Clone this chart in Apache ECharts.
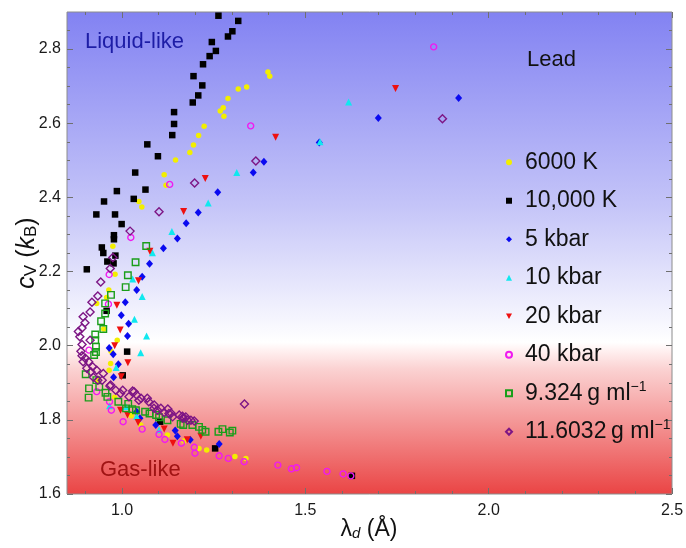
<!DOCTYPE html>
<html>
<head>
<meta charset="utf-8">
<script src="https://cdn.jsdelivr.net/npm/echarts@6/dist/echarts.min.js"></script>
<style>
  html, body { margin: 0; padding: 0; background: #ffffff; }
  #chart { width: 686px; height: 548px; }
</style>
</head>
<body>
<div id="chart"></div>
<script>
// Heat capacity c_V versus thermal de Broglie wavelength, lead.
// Each series is a list of [lambda_d (Å), c_V (k_B)] pairs.

const isotherm6000K = [
  [1.398,2.738],[1.403,2.727],[1.340,2.698],[1.317,2.692],[1.289,2.667],[1.276,2.642],[1.268,2.633],
  [1.278,2.619],[1.224,2.592],[1.209,2.567],[1.195,2.541],[1.185,2.521],[1.146,2.501],[1.115,2.461],
  [1.120,2.433],[1.046,2.389],[1.054,2.374],[0.975,2.268],[0.981,2.193],[0.964,2.150],[0.958,2.130],
  [0.931,2.114],[0.950,2.045],[0.987,2.015],[0.970,1.985],[0.969,1.952],[0.965,1.934],[0.934,1.907],
  [0.980,1.861],[1.025,1.811],[1.051,1.786],[1.124,1.759],[1.169,1.743],[1.210,1.723],[1.231,1.719],
  [1.308,1.701],[1.338,1.696]
];
const isotherm10000K = [
  [1.263,2.890],[1.317,2.876],[1.301,2.848],[1.289,2.834],[1.245,2.819],[1.256,2.795],[1.239,2.781],
  [1.221,2.759],[1.195,2.727],[1.219,2.702],[1.208,2.675],[1.193,2.656],[1.142,2.630],[1.142,2.598],
  [1.137,2.568],[1.069,2.543],[1.098,2.511],[1.036,2.467],[1.064,2.421],[0.986,2.417],[1.032,2.396],
  [0.951,2.389],[0.930,2.354],[0.981,2.354],[0.999,2.328],[0.978,2.298],[0.978,2.287],[0.945,2.265],
  [0.949,2.250],[0.982,2.243],[0.960,2.227],[0.977,2.222],[0.904,2.206],[0.958,2.094],[1.014,1.984],
  [1.002,1.920],[1.104,1.795],[1.254,1.723],[1.627,1.649]
];
const isobar5kbar = [
  [1.918,2.668],[1.699,2.614],[1.538,2.548],[1.387,2.496],[1.358,2.467],[1.261,2.414],[1.208,2.359],
  [1.175,2.330],[1.151,2.289],[1.113,2.263],[1.075,2.221],[1.055,2.186],[1.040,2.150],[1.009,2.117],
  [0.998,2.082],[1.018,2.059],[1.015,2.026],[0.965,1.994],[0.976,1.977],[0.990,1.950],[0.977,1.915],
  [1.040,1.822],[1.049,1.804],[1.092,1.786],[1.145,1.771],[1.151,1.756],[1.186,1.746],[1.265,1.735]
];
const isobar10kbar = [
  [1.618,2.657],[1.540,2.550],[1.313,2.467],[1.235,2.385],[1.136,2.308],[1.083,2.251],[1.029,2.180],
  [1.055,2.133],[1.034,2.071],[1.067,2.026],[1.051,1.981],[0.984,1.941],
  [0.966,1.838],[1.011,1.835],[1.040,1.810],[1.101,1.773]
];
const isobar20kbar = [
  [1.746,2.694],[1.419,2.562],[1.227,2.451],[1.168,2.362],[1.076,2.255],[1.045,2.175],[0.986,2.109],
  [0.995,2.042],[0.980,2.000],[1.016,1.954],[0.998,1.916],
  [0.996,1.826],[1.015,1.813],[1.044,1.793],[1.115,1.775],[1.139,1.737],[1.178,1.746],[1.215,1.756]
];
const isobar40kbar = [
  [1.850,2.806],[1.351,2.593],[1.130,2.435],[1.024,2.292],[0.965,2.192],[0.963,2.112],[0.910,1.988],
  [0.931,1.876],[0.966,1.849],[0.971,1.826],[1.003,1.795],[1.055,1.775],[1.101,1.761],[1.117,1.747],
  [1.162,1.737],[1.197,1.726],[1.199,1.710],[1.265,1.703],[1.290,1.696],[1.333,1.687],[1.425,1.678],
  [1.462,1.668],[1.476,1.671],[1.559,1.661],[1.603,1.654],[1.624,1.649]
];
const isochore9324 = [
  [1.066,2.269],[1.037,2.225],[1.016,2.190],[1.010,2.158],[0.970,2.137],[0.954,2.114],[0.954,2.087],
  [0.943,2.066],[0.949,2.045],[0.927,2.030],[0.927,2.015],[0.929,1.997],[0.929,1.983],[0.924,1.975],
  [0.901,1.923],[0.930,1.907],[0.910,1.885],[0.938,1.889],[0.909,1.860],[0.955,1.873],[0.960,1.862],
  [0.990,1.849],[1.017,1.843],[1.011,1.831],[1.028,1.829],[1.038,1.826],[1.063,1.822],[1.075,1.817],
  [1.093,1.813],[1.101,1.807],[1.124,1.799],[1.160,1.789],[1.167,1.786],[1.192,1.786],[1.210,1.781],
  [1.219,1.773],[1.228,1.768],[1.263,1.768],[1.274,1.775],[1.294,1.766],[1.301,1.771]
];
const isochore116032 = [
  [1.874,2.612],[1.365,2.498],[1.198,2.439],[1.101,2.361],[1.022,2.309],[0.975,2.238],[0.968,2.208],
  [0.942,2.172],[0.934,2.134],[0.918,2.117],[0.913,2.091],[0.894,2.078],[0.899,2.062],[0.891,2.048],
  [0.881,2.038],[0.885,2.024],[0.913,2.015],[0.891,2.003],[0.888,1.985],[0.891,1.973],[0.900,1.966],
  [0.894,1.957],[0.909,1.957],[0.920,1.943],[0.904,1.939],[0.915,1.930],[0.931,1.934],[0.922,1.915],
  [0.934,1.907],[0.949,1.925],[0.946,1.907],[0.967,1.891],[0.969,1.894],[0.983,1.880],[0.996,1.871],
  [1.002,1.880],[1.019,1.862],[1.033,1.876],[1.029,1.878],[1.040,1.867],[1.046,1.853],[1.052,1.858],
  [1.069,1.858],[1.073,1.849],[1.088,1.840],[1.087,1.831],[1.097,1.826],[1.106,1.831],[1.115,1.820],
  [1.125,1.829],[1.128,1.817],[1.134,1.818],[1.138,1.808],[1.156,1.813],[1.165,1.810],[1.166,1.804],
  [1.174,1.808],[1.179,1.799],[1.188,1.799],[1.197,1.797],[1.334,1.843]
];

const seriesNames = ['6000 K', '10,000 K', '5 kbar', '10 kbar', '20 kbar', '40 kbar', '9.324 g ml', '11.6032 g ml'];
const xMajorTicks = [1.0, 1.5, 2.0, 2.5];
const xMinorTicks = [0.9, 1.1, 1.2, 1.3, 1.4, 1.6, 1.7, 1.8, 1.9, 2.1, 2.2, 2.3, 2.4];
const yMajorTicks = [1.6, 1.8, 2.0, 2.2, 2.4, 2.6, 2.8];
const yMinorTicks = [1.65, 1.7, 1.75, 1.85, 1.9, 1.95, 2.05, 2.1, 2.15, 2.25, 2.3, 2.35,
                     2.45, 2.5, 2.55, 2.65, 2.7, 2.75, 2.85];

const FONT = '"Liberation Sans", Arial, sans-serif';
const chart = echarts.init(document.getElementById('chart'), null, { renderer: 'canvas' });

function makeAxis(dim, position, ticks, len, withLabels) {
  const ax = {
    type: 'value',
    position: position,
    min: dim === 'x' ? 0.85 : 1.6,
    max: dim === 'x' ? 2.5 : 2.9,
    axisLine: { show: false },
    splitLine: { show: false },
    axisTick: { show: true, inside: true, length: len, customValues: ticks,
                lineStyle: { color: '#707070', width: 1 } },
    axisLabel: { show: false }
  };
  if (withLabels) {
    ax.axisLabel = {
      show: true, customValues: ticks,
      formatter: v => v.toFixed(1),
      fontFamily: FONT, fontSize: 16, color: '#1a1a1a',
      margin: dim === 'x' ? 9 : 6
    };
  }
  return ax;
}

const hollow = 'rgba(0,0,0,0)';
function scatter(name, data, symbol, size, fill, stroke, extra) {
  return Object.assign({
    type: 'scatter', name: name, data: data,
    symbol: symbol, symbolSize: size,
    itemStyle: { color: fill, borderColor: stroke, borderWidth: fill === hollow ? 1.4 : 0, opacity: 1 },
    emphasis: { disabled: true },
    xAxisIndex: 0, yAxisIndex: 0
  }, extra || {});
}

// legend entries; the 20 kbar key uses a downward triangle like its markers
const legendData = seriesNames.map(n => n === '20 kbar'
  ? { name: n, icon: 'path://M0,0L10,0L5,9Z' } : { name: n });

const option = {
  animation: false,
  backgroundColor: '#ffffff',
  grid: {
    left: 67, right: 14, top: 12, bottom: 54,
    outerBoundsMode: 'none',
    show: true,
    borderColor: '#8c8c8c', borderWidth: 1,
    backgroundColor: new echarts.graphic.LinearGradient(0, 0, 0, 1, [
      { offset: 0, color: '#8282f2' },
      { offset: 0.40, color: '#c4c4f8' },
      { offset: 0.685, color: '#ffffff' },
      { offset: 0.70, color: '#fff2f2' },
      { offset: 0.74, color: '#fbd2d2' },
      { offset: 1, color: '#ea4444' }
    ])
  },
  xAxis: [
    makeAxis('x', 'bottom', xMajorTicks, 6, true),
    makeAxis('x', 'bottom', xMinorTicks, 3, false),
    makeAxis('x', 'top', xMajorTicks, 6, false),
    makeAxis('x', 'top', xMinorTicks, 3, false)
  ],
  yAxis: [
    makeAxis('y', 'left', yMajorTicks, 6, true),
    makeAxis('y', 'left', yMinorTicks, 3, false),
    makeAxis('y', 'right', yMajorTicks, 6, false),
    makeAxis('y', 'right', yMinorTicks, 3, false)
  ],
  legend: {
    orient: 'vertical',
    left: 500, top: 144,
    itemWidth: 6, itemHeight: 6,
    itemGap: 12,
    selectedMode: false,
    data: legendData,
    formatter: name => '{gap|}' + (name.endsWith(' ml')
      ? name.replace(' g ml', '\u2009g ml') + '{sup|\u22121}' : name),
    textStyle: {
      fontFamily: FONT, fontSize: 23, color: '#111111', lineHeight: 26.5,
      rich: {
        gap: { width: 8, lineHeight: 26.5 },
        sup: { fontFamily: FONT, fontSize: 14, lineHeight: 12, verticalAlign: 'top', color: '#111111' }
      }
    }
  },
  series: [
    scatter(seriesNames[0], isotherm6000K, 'circle', 5.5, '#f2ee00', '#f2ee00'),
    scatter(seriesNames[1], isotherm10000K, 'rect', 6.5, '#000000', '#000000'),
    scatter(seriesNames[2], isobar5kbar, 'diamond', [7, 8], '#0a0af0', '#0a0af0'),
    scatter(seriesNames[3], isobar10kbar, 'triangle', 7, '#10e8ef', '#10e8ef'),
    scatter(seriesNames[4], isobar20kbar, 'triangle', 7, '#ee1010', '#ee1010', { symbolRotate: 180 }),
    scatter(seriesNames[5], isobar40kbar, 'circle', 6, hollow, '#f01af0'),
    scatter(seriesNames[6], isochore9324, 'rect', 6.5, hollow, '#1a9e1a'),
    scatter(seriesNames[7], isochore116032, 'diamond', [8, 8], hollow, '#7d1585')
  ],
  graphic: [
    { type: 'text', x: 85, y: 42, silent: true, z: 10,
      style: { text: 'Liquid-like', fill: '#1d1da6', font: '22px ' + FONT, textVerticalAlign: 'middle' } },
    { type: 'text', x: 100, y: 470, silent: true, z: 10,
      style: { text: 'Gas-like', fill: '#a01414', font: '22px ' + FONT, textVerticalAlign: 'middle' } },
    { type: 'text', x: 527, y: 60, silent: true, z: 10,
      style: { text: 'Lead', fill: '#111111', font: '22px ' + FONT, textVerticalAlign: 'middle' } },
    { type: 'text', x: 369, y: 530, silent: true, z: 10,
      style: {
        text: 'λ{si|d} (Å)', fill: '#111111', fontFamily: FONT, fontSize: 23,
        align: 'center', verticalAlign: 'middle',
        rich: { si: { fontFamily: FONT, fontSize: 15, fontStyle: 'italic', verticalAlign: 'bottom', lineHeight: 14, fill: '#111111' } }
      } },
    { type: 'text', x: 27, y: 253, rotation: Math.PI / 2, silent: true, z: 10,
      style: {
        text: '{i|c}{s|V} ({i|k}{s|B})', fill: '#111111', fontFamily: FONT, fontSize: 25,
        align: 'center', verticalAlign: 'middle',
        rich: {
          i: { fontFamily: FONT, fontSize: 25, fontStyle: 'italic', fill: '#111111' },
          s: { fontFamily: FONT, fontSize: 17, verticalAlign: 'bottom', lineHeight: 14, fill: '#111111' }
        }
      } }
  ]
};

chart.setOption(option);
</script>
</body>
</html>
